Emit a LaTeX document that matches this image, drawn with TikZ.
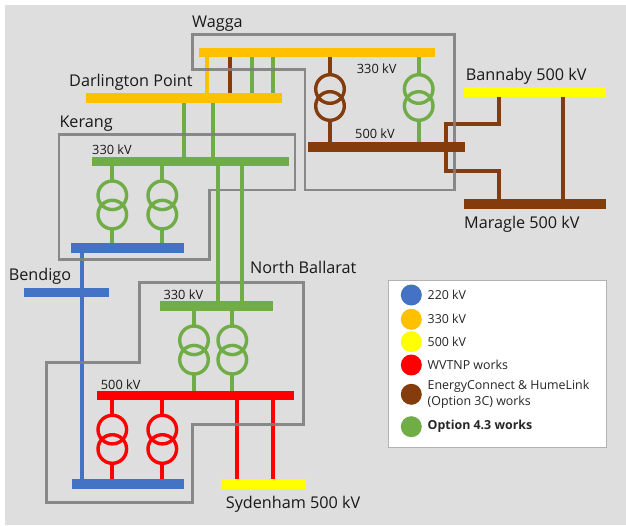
\documentclass[tikz,border=0pt]{standalone}
\usepackage{fontspec}
\setmainfont{Open Sans}
\definecolor{bluebus}{HTML}{4472C4}
\definecolor{amberbus}{HTML}{FFC000}
\definecolor{yellowbus}{HTML}{FFFF00}
\definecolor{redbus}{HTML}{FF0000}
\definecolor{brownbus}{HTML}{843C0C}
\definecolor{greenbus}{HTML}{70AD47}
\definecolor{boxgrey}{HTML}{7F7F7F}
\pgfdeclarelayer{backdrop}
\pgfdeclarelayer{feeders}
\pgfsetlayers{backdrop,feeders,main}
\tikzset{
  busbar/.style={draw=none,inner sep=0pt,outer sep=0pt,anchor=north west,minimum height=9.6pt},
  feeder/.style={line width=3.8pt},
  winding/.style={circle,draw,line width=3.4pt,fill=none,inner sep=0pt,outer sep=0pt,minimum size=28.6pt},
  sitebox/.style={draw=boxgrey,line width=2.8pt,line join=miter,opacity=0.9},
  sitename/.style={anchor=base west,inner sep=0pt,font=\fontsize{16.2}{16}\selectfont,text=black!90},
  kvname/.style={anchor=base west,inner sep=0pt,font=\fontsize{12.8}{13}\selectfont,text=black!90},
  keydot/.style={circle,inner sep=0pt,minimum size=21pt},
  keyname/.style={anchor=west,inner sep=0pt,font=\fontsize{12.4}{15.5}\selectfont,text=black!85,align=left}
}
\begin{document}
\begin{tikzpicture}[x=1pt,y=-1pt]
  \useasboundingbox (0,0) rectangle (626,525);
  \begin{pgfonlayer}{backdrop}
    \fill[black!13] (5,5) rectangle (626,525);
  \end{pgfonlayer}
  % site outlines
  \draw[sitebox] (192.7,34.3) -- (454.3,34.3) -- (454.3,190) -- (305,190) -- (305,69.3) -- (192.7,69.3) -- cycle;
  \draw[sitebox] (59,134.3) -- (295,134.3) -- (295,190) -- (209.3,190) -- (209.3,259.3) -- (59,259.3) -- cycle;
  \draw[sitebox] (139.3,282.7) -- (303.3,282.7) -- (303.3,424.7) -- (192.7,424.7) -- (192.7,502.7) -- (46.7,502.7) -- (46.7,362.7) -- (139.3,362.7) -- cycle;
  % busbars
  \node[busbar,fill=amberbus,minimum width=236pt] (wagga) at (199,47.5) {};
  \node[busbar,fill=amberbus,minimum width=196.5pt] (darlington) at (85.7,93.4) {};
  \node[busbar,fill=greenbus,minimum width=196.7pt] (kerang) at (92,156.7) {};
  \node[busbar,fill=bluebus,minimum width=113.3pt] (kerangb) at (70.7,243.3) {};
  \node[busbar,fill=bluebus,minimum width=85pt] (bendigo) at (24,287.5) {};
  \node[busbar,fill=greenbus,minimum width=113pt] (ballarat) at (159.7,301.4) {};
  \node[busbar,fill=redbus,minimum width=196.4pt] (sydred) at (97.3,390.7) {};
  \node[busbar,fill=bluebus,minimum width=112pt] (sydblue) at (71.7,479) {};
  \node[busbar,fill=yellowbus,minimum width=84.4pt] (sydenham) at (221.3,479) {};
  \node[busbar,fill=brownbus,minimum width=156.7pt] (waggab) at (308.3,142.2) {};
  \node[busbar,fill=yellowbus,minimum width=142pt] (bannaby) at (464,87.4) {};
  \node[busbar,fill=brownbus,minimum width=142.3pt] (maragle) at (464,199) {};
  % feeders
  \foreach \x in {218.3,241.7}
    \draw[feeder,greenbus] (\x,0 |- kerang.south) -- (\x,0 |- ballarat.north);
  \begin{pgfonlayer}{feeders}
    \draw[feeder,amberbus] (206.7,0 |- wagga.south) -- (206.7,0 |- darlington.north);
    \draw[feeder,brownbus] (230,0 |- wagga.south) -- (230,0 |- darlington.north);
    \foreach \x in {251.7,273.3}
      \draw[feeder,greenbus] (\x,0 |- wagga.south) -- (\x,0 |- darlington.north);
    \foreach \x in {184,213.3}
      \draw[feeder,greenbus] (\x,0 |- darlington.south) -- (\x,0 |- kerang.north);
    \draw[feeder,bluebus] (81.7,0 |- kerangb.south) -- (81.7,0 |- sydblue.north);
    \foreach \x in {237.3,273.3}
      \draw[feeder,redbus] (\x,0 |- sydred.south) -- (\x,0 |- sydenham.north);
    \draw[feeder,brownbus] (563,0 |- bannaby.south) -- (563,0 |- maragle.north);
    \draw[feeder,brownbus,line join=miter] (499.3,0 |- bannaby.south) |- (446,123.7) |- (499.3,171) -- (499.3,0 |- maragle.north);
    % transformers
    \foreach \x/\name/\col/\up/\down/\ya/\yb in {
        112.3/ka/greenbus/kerang/kerangb/195.3/214.6,
        162.3/kb/greenbus/kerang/kerangb/195.3/214.6,
        194/na/greenbus/ballarat/sydred/340.3/359.7,
        232.3/nb/greenbus/ballarat/sydred/340.3/359.7,
        112.3/sa/redbus/sydred/sydblue/429.6/449,
        162.3/sb/redbus/sydred/sydblue/429.6/449,
        330/wa/brownbus/wagga/waggab/89/106,
        418.7/wb/greenbus/wagga/waggab/89/106} {
      \node[winding,draw=\col] (\name top) at (\x,\ya) {};
      \node[winding,draw=\col] (\name bot) at (\x,\yb) {};
      \draw[feeder,\col] (\x,0 |- \up.south) -- (\name top.north);
      \draw[feeder,\col] (\name bot.south) -- (\x,0 |- \down.north);
    }
  \end{pgfonlayer}
  % labels
  \node[sitename] (wagganame) at (192,27) {Wagga};
  \node[sitename] (darlingtonname) at (69,86.7) {Darlington Point};
  \node[sitename] (kerangname) at (59.3,127.7) {Kerang};
  \node[sitename] (bannabyname) at (465.7,80) {Bannaby 500 kV};
  \node[sitename] (maraglename) at (464,228.3) {Maragle 500 kV};
  \node[sitename] (ballaratname) at (250,273.3) {North Ballarat};
  \node[sitename] (bendigoname) at (8.7,280.7) {Bendigo};
  \node[sitename] (sydenhamname) at (225.7,508.3) {Sydenham 500 kV};
  \node[kvname] (kvwagga) at (356.7,73.3) {330 kV};
  \node[kvname] (kvwaggab) at (355,138.3) {500 kV};
  \node[kvname] (kvkerang) at (92,154.3) {330 kV};
  \node[kvname] (kvballarat) at (163.3,299) {330 kV};
  \node[kvname] (kvsyd) at (100.7,389) {500 kV};
  % legend
  \node[draw=black!30,line width=0.9pt,fill=white,inner sep=0pt,anchor=north west,minimum width=218pt,minimum height=166.4pt] (legend) at (388,280.3) {};
  \foreach \y/\col/\txt/\name in {
      295/bluebus/220 kV/keya,
      319.3/amberbus/330 kV/keyb,
      341.7/yellowbus/500 kV/keyc,
      365/redbus/WVTNP works/keyd,
      394.3/brownbus/{EnergyConnect \& HumeLink\\(Option 3C) works}/keye,
      426.7/greenbus/\textbf{Option 4.3 works}/keyf} {
    \node[keydot,fill=\col] (\name) at (411.3,\y) {};
    \node[keyname] (\name text) at (427.5,\y) {\txt};
  }
\end{tikzpicture}
\end{document}
